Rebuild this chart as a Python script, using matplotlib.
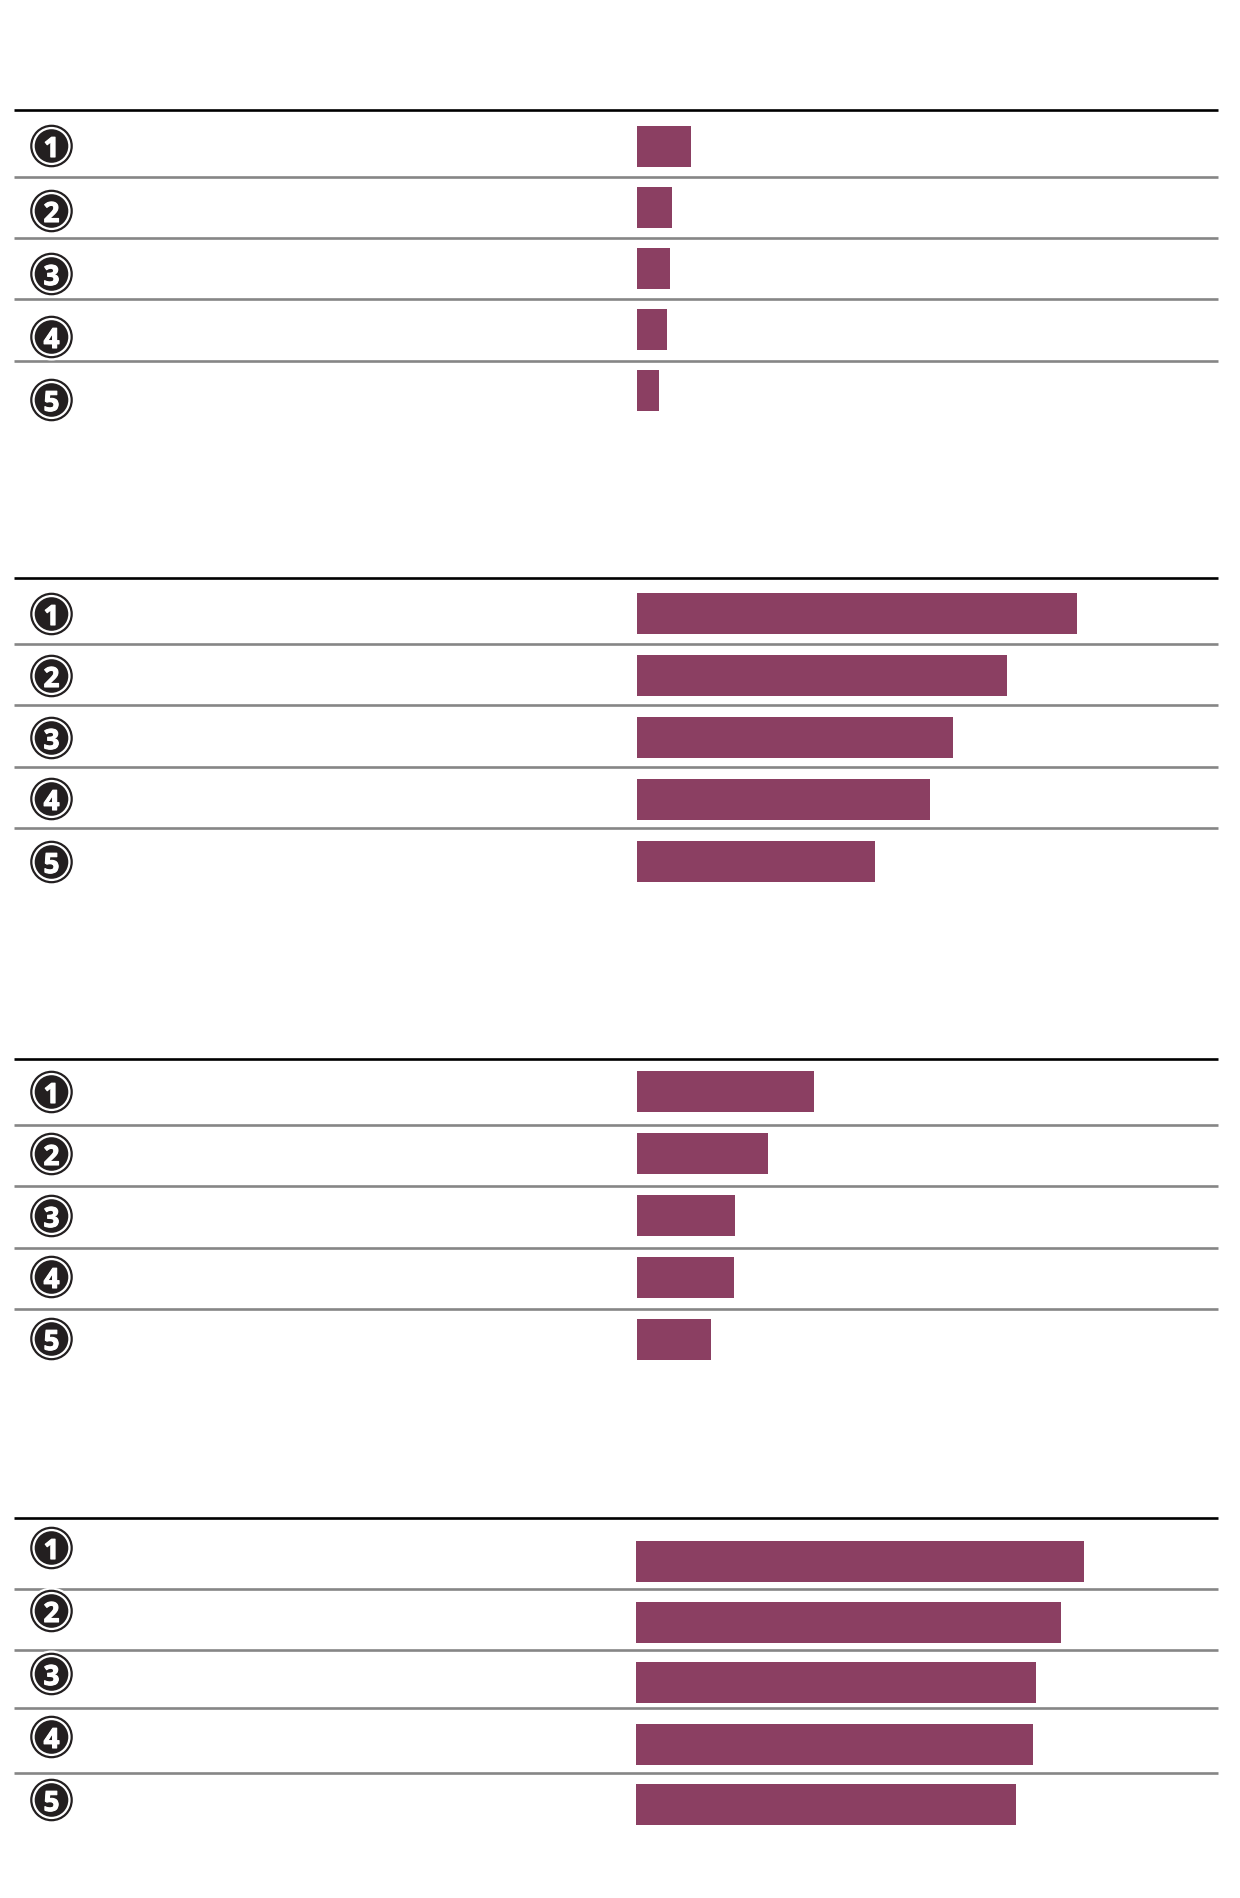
import matplotlib
matplotlib.use("Agg")
import matplotlib.pyplot as plt
import matplotlib.patheffects as pe
from matplotlib.patches import Circle

# bar lengths, one list per panel
panel1 = [53.5, 35, 33, 29.5, 21.5]
panel2 = [439.5, 369.5, 316, 293, 238]
panel3 = [177, 131, 98, 97, 74]
panel4 = [447.5, 424.5, 399.5, 397, 380]
panels = [panel1, panel2, panel3, panel4]
ranks = ["1", "2", "3", "4", "5"]

# layout in pixels
bar_left = [637, 637, 637, 636]
bar_tops = [[126, 187, 248, 309, 370],
            [593, 655, 717, 779, 841],
            [1071, 1133, 1195, 1257, 1319],
            [1541, 1602, 1662, 1724, 1784]]
bar_h = 41
circle_y = [[146, 211, 274, 337, 400],
            [614, 676, 738, 799, 862],
            [1092, 1154, 1216, 1277, 1339],
            [1548, 1611, 1674, 1737, 1800]]
top_rule = [110, 578, 1059, 1518]
rules = [[177, 238, 299, 361],
         [644, 705, 767, 828],
         [1125, 1186, 1248, 1309],
         [1589, 1650, 1708, 1773]]

BAR = "#8b3f62"
DARK = "#231f20"

fig = plt.figure(figsize=(12.4, 18.98), dpi=100)
ax = fig.add_axes([0, 0, 1, 1])
ax.set_xlim(0, 1240)
ax.set_ylim(1898, 0)
ax.axis("off")

for i, vals in enumerate(panels):
    ax.hlines(top_rule[i], 14, 1218, color="black", lw=1.9, zorder=1)
    ax.hlines(rules[i], 14, 1218, color="#868686", lw=1.9, zorder=1)
    centers = [t + bar_h / 2 for t in bar_tops[i]]
    ax.barh(centers, vals, height=bar_h, left=bar_left[i], color=BAR, zorder=2)
    for y, r in zip(circle_y[i], ranks):
        ax.add_patch(Circle((51.5, y), 23.5, fc="white", ec="none", zorder=3))
        ax.add_patch(Circle((51.5, y), 20.2, fc="white", ec=DARK, lw=1.6, zorder=4))
        ax.add_patch(Circle((51.5, y), 16.8, fc=DARK, ec="none", zorder=5))
        t = ax.text(51.5, y, r, color="white", ha="center", va="center_baseline",
                    fontsize=20, fontweight="bold", family="Open Sans", zorder=6)
        t.set_path_effects([pe.withStroke(linewidth=0.8, foreground="white")])

fig.savefig("out.png", dpi=100, facecolor="white")
